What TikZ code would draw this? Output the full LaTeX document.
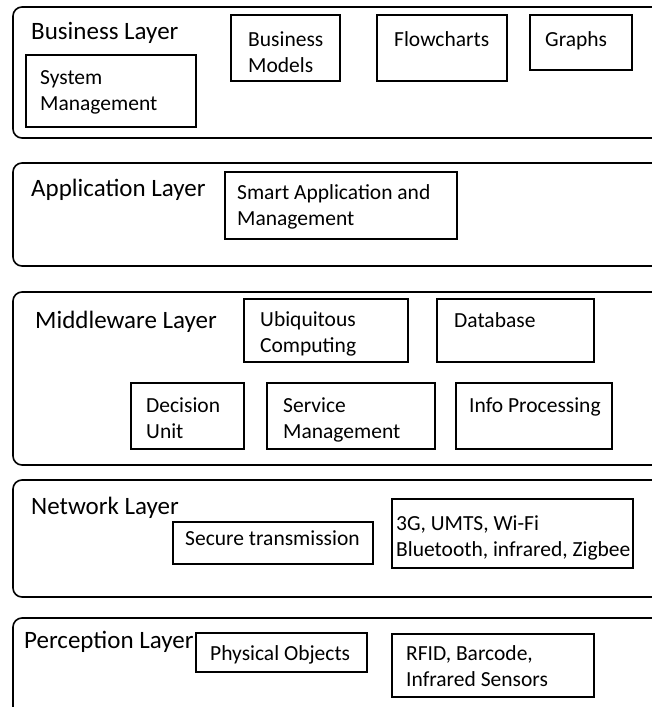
\documentclass[tikz,border=0pt]{standalone}
\usepackage{fontspec}
\setmainfont{Carlito}

\begin{document}
\begin{tikzpicture}[x=1pt,y=-1pt,
        layer/.style={draw, rounded corners=9pt, line width=1.6pt},
        item/.style={draw, line width=1.6pt},
        layer text/.style={anchor=base west, inner sep=0pt, font=\fontsize{25}{30}\selectfont},
        item text/.style={anchor=base west, inner sep=0pt, align=left, font=\fontsize{21.5}{26}\selectfont}]

    \useasboundingbox (0,0) rectangle (652,707);
    \clip (0,0) rectangle (652,707);

    % business layer
    \draw[layer] (13,7) rectangle (700,138);
    \node[layer text] (business) at (31,39) {Business Layer};
    \draw[item] (26,55) rectangle (196,127);
    \node[item text] (sysman) at (40,110) {System\\Management};
    \draw[item] (231,15) rectangle (340,81);
    \node[item text] (busmod) at (248,72) {Business\\Models};
    \draw[item] (377,15) rectangle (507,81);
    \node[item text] (flow) at (394,46) {Flowcharts};
    \draw[item] (530,15) rectangle (632,70);
    \node[item text] (graphs) at (545,46) {Graphs};

    % application layer
    \draw[layer] (13,163) rectangle (700,266);
    \node[layer text] (application) at (31,196) {Application Layer};
    \draw[item] (225,172) rectangle (457,239);
    \node[item text] (smart) at (237,225) {Smart Application and\\Management};

    % middleware layer
    \draw[layer] (13,292) rectangle (700,465);
    \node[layer text] (middleware) at (35,328) {Middleware Layer};
    \draw[item] (244,299) rectangle (408,362);
    \node[item text] (ubi) at (260,352) {Ubiquitous\\Computing};
    \draw[item] (437,299) rectangle (594,362);
    \node[item text] (db) at (454,327) {Database};
    \draw[item] (131,383) rectangle (244,449);
    \node[item text] (decision) at (146,438) {Decision\\Unit};
    \draw[item] (267,383) rectangle (435,449);
    \node[item text] (service) at (283,438) {Service\\Management};
    \draw[item] (456,383) rectangle (612,449);
    \node[item text] (info) at (469,412) {Info Processing};

    % network layer
    \draw[layer] (13,480) rectangle (700,597);
    \node[layer text] (network) at (31,514) {Network Layer};
    \draw[item] (173,522) rectangle (373,564);
    \node[item text] (secure) at (185,545) {Secure transmission};
    \draw[item] (392,499) rectangle (633,568);
    \node[item text] (wireless) at (396,556) {3G, UMTS, Wi-Fi\\Bluetooth, infrared, Zigbee};

    % perception layer
    \draw[layer] (13,618) rectangle (700,760);
    \node[layer text] (perception) at (24,648) {Perception Layer};
    \draw[item] (196,633) rectangle (367,672);
    \node[item text] (physical) at (210,660) {Physical Objects};
    \draw[item] (392,634) rectangle (594,697);
    \node[item text] (sensors) at (406,686) {RFID, Barcode,\\Infrared Sensors};

\end{tikzpicture}
\end{document}
